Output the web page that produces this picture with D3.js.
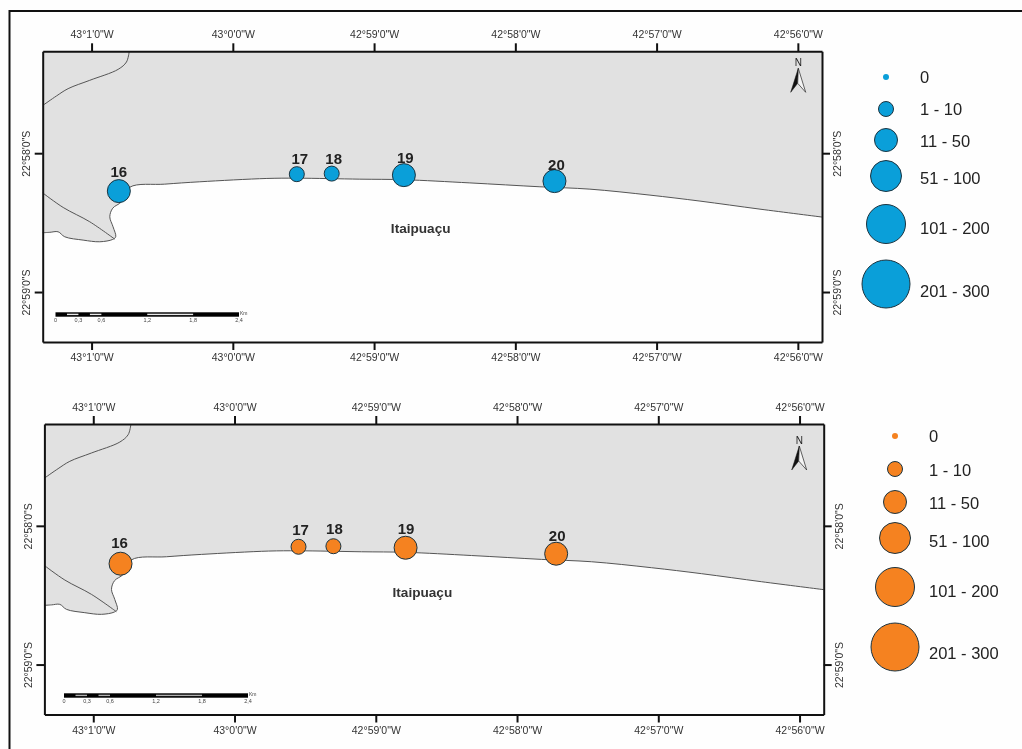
<!DOCTYPE html>
<html>
<head>
<meta charset="utf-8">
<script src="https://cdnjs.cloudflare.com/ajax/libs/d3/7.8.5/d3.min.js"></script>
<style>
  html, body { margin: 0; padding: 0; background: #fff; }
  svg { display: block; font-family: "Liberation Sans", Arial, sans-serif; filter: blur(0.4px); }
  .axis text { font-size: 10.5px; fill: #333; font-family: "Liberation Sans", Arial, sans-serif; }
  .axis path, .axis line { stroke: #111; stroke-width: 2px; }
</style>
</head>
<body>
<div id="chart"></div>
<script>
// Coordinates are minutes: east of 43°0'W, and south of 22°58'S
const lonTicks = [-1, 0, 1, 2, 3, 4];
const lonLabels = ['43°1\'0"W', '43°0\'0"W', '42°59\'0"W', '42°58\'0"W', '42°57\'0"W', '42°56\'0"W'];
const latTicks = [0, 1];
const latLabels = ['22°58\'0"S', '22°59\'0"S'];

const lonExtent = [-1.346, 4.171];
const latExtent = [-0.734, 1.36];

const stationNames = ['16', '17', '18', '19', '20'];
const stationLon = [-0.807, 0.453, 0.70, 1.211, 2.277];
const stationLat = [0.273, 0.151, 0.147, 0.158, 0.201];
const stationClass = ['11 - 50', '1 - 10', '1 - 10', '11 - 50', '11 - 50'];

const classes = ['0', '1 - 10', '11 - 50', '51 - 100', '101 - 200', '201 - 300'];

// Shoreline from the east edge round to the west edge
const coast = [
  [4.171, 0.460], [3.732, 0.403], [3.307, 0.345], [2.953, 0.302], [2.528, 0.259],
  [2.174, 0.242], [1.678, 0.214], [1.211, 0.191], [0.899, 0.187], [0.453, 0.180],
  [0.241, 0.182], [-0.234, 0.206], [-0.482, 0.223], [-0.729, 0.245], [-0.788, 0.350],
  [-0.850, 0.396], [-0.871, 0.458], [-0.848, 0.530], [-0.829, 0.602], [-0.850, 0.621],
  [-0.942, 0.638], [-1.060, 0.626], [-1.190, 0.602], [-1.237, 0.566], [-1.296, 0.570],
  [-1.346, 0.573]
];
const roadNorth = [
  [-0.734, -0.729], [-0.753, -0.657], [-0.812, -0.604], [-1.013, -0.525],
  [-1.166, -0.465], [-1.249, -0.412], [-1.344, -0.345]
];
const roadSouth = [[-1.346, 0.286], [-1.201, 0.391], [-1.013, 0.494], [-0.836, 0.619]];

const scaleKm = [0, 0.3, 0.6, 1.2, 1.8, 2.4];
const scaleLight = [[0.15, 0.3], [0.45, 0.6], [1.2, 1.8]];

const width = 1022, height = 749;

const radius = d3.scaleOrdinal(classes, [3, 7.5, 11.5, 15.5, 19.5, 24]);
const nudgeX = [0, 3, 2, 1.5, 2];
const nudgeY = [-19, -15, -15, -17, -16];

const panels = [
  {
    left: 42.7, right: 822, top: 51.3, bottom: 342, fill: '#0a9fd9', inset: '#e8e8e8',
    legendX: 886, legendTextX: 920,
    legendY: [77, 109, 140, 176, 224, 284],
    legendTextY: [77, 109, 141, 178, 228, 291],
    barX: [55.5, 239], barY: 312.3, north: [798.3, 68.3],
    labelShift: [0, 0], placeShift: 0
  },
  {
    left: 44.4, right: 823.7, top: 424, bottom: 714.5, fill: '#f58220', inset: '#b0b0b0',
    legendX: 895, legendTextX: 929,
    legendY: [436, 469, 502, 538, 587, 647],
    legendTextY: [436, 470, 503, 541, 591, 653],
    barX: [64, 248], barY: 693.3, north: [799.3, 446],
    labelShift: [-1, -2], placeShift: -9
  }
];

const svg = d3.select('#chart').append('svg')
  .attr('width', width)
  .attr('height', height);

svg.append('rect')
  .attr('width', width)
  .attr('height', height)
  .attr('fill', '#fefefe');

// Page frame has only a top and a left side
svg.append('path')
  .attr('d', 'M9.5,' + height + 'V11H' + width)
  .attr('fill', 'none')
  .attr('stroke', '#111')
  .attr('stroke-width', 2);

panels.forEach(p => {
  const x = d3.scaleLinear().domain(lonExtent).range([p.left, p.right]);
  const y = d3.scaleLinear().domain(latExtent).range([p.top, p.bottom]);

  const line = d3.line()
    .x(d => x(d[0]))
    .y(d => y(d[1]))
    .curve(d3.curveCatmullRom);

  // Land
  svg.append('path')
    .attr('d', line(coast) + 'L' + x(lonExtent[0]) + ',' + y(latExtent[0]) + 'L' + x(lonExtent[1]) + ',' + y(latExtent[0]) + 'Z')
    .attr('fill', '#e1e1e1');
  [coast, roadNorth, roadSouth].forEach(d => {
    svg.append('path')
      .attr('d', line(d))
      .attr('fill', 'none')
      .attr('stroke', '#555')
      .attr('stroke-width', 1);
  });

  // Axes on all four sides
  const fmtLon = v => lonLabels[lonTicks.indexOf(v)];
  const fmtLat = v => latLabels[latTicks.indexOf(v)];

  svg.append('g').attr('class', 'axis')
    .attr('transform', 'translate(0,' + p.top + ')')
    .call(d3.axisTop(x).tickValues(lonTicks).tickFormat(fmtLon).tickSize(8).tickSizeOuter(0).tickPadding(5));
  svg.append('g').attr('class', 'axis')
    .attr('transform', 'translate(0,' + p.bottom + ')')
    .call(d3.axisBottom(x).tickValues(lonTicks).tickFormat(fmtLon).tickSize(8).tickSizeOuter(0).tickPadding(4));
  svg.append('g').attr('class', 'axis')
    .attr('transform', 'translate(' + p.left + ',0)')
    .call(d3.axisLeft(y).tickValues(latTicks).tickFormat(fmtLat).tickSize(8).tickSizeOuter(0))
    .call(g => g.selectAll('.tick text')
      .attr('transform', 'rotate(-90)')
      .attr('x', 0).attr('y', -16)
      .attr('text-anchor', 'middle'));
  svg.append('g').attr('class', 'axis')
    .attr('transform', 'translate(' + p.right + ',0)')
    .call(d3.axisRight(y).tickValues(latTicks).tickFormat(fmtLat).tickSize(8).tickSizeOuter(0))
    .call(g => g.selectAll('.tick text')
      .attr('transform', 'rotate(-90)')
      .attr('x', 0).attr('y', 16)
      .attr('text-anchor', 'middle'));

  // Stations
  svg.append('g').selectAll('circle')
    .data(stationNames)
    .join('circle')
      .attr('cx', (d, j) => x(stationLon[j]))
      .attr('cy', (d, j) => y(stationLat[j]))
      .attr('r', (d, j) => radius(stationClass[j]))
      .attr('fill', p.fill)
      .attr('stroke', '#1c3440')
      .attr('stroke-width', 1);

  svg.append('g').selectAll('text')
    .data(stationNames)
    .join('text')
      .attr('x', (d, j) => x(stationLon[j]) + nudgeX[j] + p.labelShift[0])
      .attr('y', (d, j) => y(stationLat[j]) + nudgeY[j] + p.labelShift[1])
      .attr('dy', '0.35em')
      .attr('text-anchor', 'middle')
      .attr('font-size', 15)
      .attr('font-weight', 'bold')
      .attr('fill', '#222')
      .text(d => d);

  svg.append('text')
    .attr('x', x(1.33))
    .attr('y', y(0.54) + p.placeShift)
    .attr('dy', '0.35em')
    .attr('text-anchor', 'middle')
    .attr('font-size', 13.6)
    .attr('font-weight', 'bold')
    .attr('fill', '#333')
    .text('Itaipuaçu');

  // Scale bar
  const km = d3.scaleLinear().domain([0, 2.4]).range(p.barX);
  const bar = svg.append('g');
  bar.append('rect')
    .attr('x', km(0)).attr('y', p.barY)
    .attr('width', km(2.4) - km(0)).attr('height', 4.4)
    .attr('fill', '#000');
  bar.selectAll('rect.light')
    .data(scaleLight)
    .join('rect')
      .attr('class', 'light')
      .attr('x', d => km(d[0])).attr('y', p.barY + 1.4)
      .attr('width', d => km(d[1]) - km(d[0])).attr('height', 1.4)
      .attr('fill', p.inset);
  bar.selectAll('text')
    .data(scaleKm)
    .join('text')
      .attr('x', d => km(d))
      .attr('y', p.barY + 9.5)
      .attr('text-anchor', 'middle')
      .attr('font-size', 5.5)
      .attr('fill', '#444')
      .text(d => d === 0 ? '0' : d3.format('.1f')(d).replace('.', ','));
  bar.append('text')
    .attr('x', km(2.4) + 1)
    .attr('y', p.barY + 3)
    .attr('font-size', 5)
    .attr('fill', '#444')
    .text('Km');

  // North arrow
  const north = svg.append('g')
    .attr('transform', 'translate(' + p.north[0] + ',' + p.north[1] + ')');
  north.append('text')
    .attr('y', -2.5)
    .attr('text-anchor', 'middle')
    .attr('font-size', 10)
    .attr('fill', '#222')
    .text('N');
  north.append('path').attr('d', 'M0,0L-7.6,24L-0.6,15Z').attr('fill', '#111').attr('stroke', '#111').attr('stroke-width', 0.5);
  north.append('path').attr('d', 'M0,0L7.4,24L-0.6,15Z').attr('fill', '#f4f4f4').attr('stroke', '#222').attr('stroke-width', 0.7);

  // Legend
  const legend = svg.append('g');
  legend.selectAll('circle')
    .data(classes)
    .join('circle')
      .attr('cx', p.legendX)
      .attr('cy', (d, j) => p.legendY[j])
      .attr('r', d => radius(d))
      .attr('fill', p.fill)
      .attr('stroke', d => d === '0' ? 'none' : '#1c3440')
      .attr('stroke-width', 1);
  legend.selectAll('text')
    .data(classes)
    .join('text')
      .attr('x', p.legendTextX)
      .attr('y', (d, j) => p.legendTextY[j])
      .attr('dy', '0.35em')
      .attr('font-size', 16.5)
      .attr('fill', '#222')
      .text(d => d);
});
</script>
</body>
</html>
